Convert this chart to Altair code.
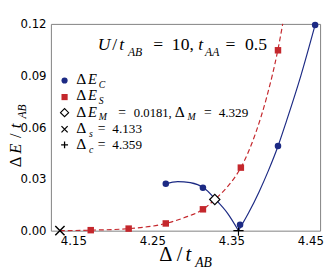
import altair as alt
import pandas as pd

# ---------------- data ----------------
c_x = [4.267, 4.314, 4.361, 4.409, 4.456]          # Delta E_C points
c_y = [0.0272, 0.0249, 0.0034, 0.0492, 0.1194]
s_x = [4.172, 4.220, 4.267, 4.314, 4.362, 4.409]   # Delta E_S points
s_y = [0.0003, 0.0012, 0.0042, 0.0124, 0.0366, 0.1047]
m_x = [4.329]                                      # crossing point
m_y = [0.0181]
ds_x = [4.133]                                     # Delta_s
dc_x = [4.359]                                     # Delta_c

# fitted curves (traced)
cl_x = [4.267, 4.282, 4.298, 4.315, 4.330, 4.345, 4.359]
cl_y = [0.0272, 0.0285, 0.0279, 0.0249, 0.0181, 0.0102, 0.0]
cr_x = [4.359, 4.372, 4.385, 4.397, 4.409, 4.420, 4.438, 4.456]
cr_y = [0.0, 0.0105, 0.0225, 0.035, 0.049, 0.064, 0.090, 0.1194]
rs_x = [4.133, 4.172, 4.220, 4.267, 4.290, 4.314, 4.329, 4.345, 4.362,
        4.381, 4.395, 4.408, 4.415]
rs_y = [0.0, 0.0003, 0.0012, 0.0042, 0.0075, 0.0124, 0.0181, 0.0255, 0.0366,
        0.057, 0.078, 0.103, 0.12]

x_ticks = [4.15, 4.25, 4.35, 4.45]
y_ticks = [0.0, 0.03, 0.06, 0.09, 0.12]

# ---------------- style ----------------
BLUE = "#1c2a84"
RED = "#c4272c"
SERIF = "Liberation Serif"
SANS = "DejaVu Sans"
OX, OY = 52, 21          # page position of the plot origin
W, H = 276, 212
XD = [4.1216, 4.4623]
YD = [0.0, 0.12]

xs = alt.Scale(domain=XD, nice=False, zero=False)
ys = alt.Scale(domain=YD, nice=False, zero=False)
xax = alt.Axis(values=x_ticks, format=".2f", title=None, domain=False, ticks=False,
               grid=False, labelFont=SANS, labelFontSize=12, labelColor="black",
               labelPadding=5)
yax = alt.Axis(values=y_ticks, format=".2f", title=None, domain=False, ticks=False,
               grid=False, labelFont=SANS, labelFontSize=12, labelColor="black",
               labelPadding=5)

curve_c = pd.DataFrame({"x": cl_x + cr_x, "y": cl_y + cr_y,
                        "b": ["l"] * len(cl_x) + ["r"] * len(cr_x)})
curve_s = pd.DataFrame({"x": rs_x, "y": rs_y})
pts_c = pd.DataFrame({"x": c_x, "y": c_y})
pts_s = pd.DataFrame({"x": s_x, "y": s_y})
pts_m = pd.DataFrame({"x": m_x, "y": m_y})
pts_ds = pd.DataFrame({"x": ds_x, "y": [0.0]})
pts_dc = pd.DataFrame({"x": dc_x, "y": [0.0]})

X = alt.X("x:Q", scale=xs, axis=xax)
Y = alt.Y("y:Q", scale=ys, axis=yax)

CROSS = "M-1,-1L1,1M-1,1L1,-1"
PLUS = "M-1,0L1,0M0,-1L0,1"

line_s = alt.Chart(curve_s).mark_line(color=RED, strokeWidth=1.2, strokeDash=[5, 3],
                                      interpolate="monotone").encode(x=X, y=Y)
line_c = alt.Chart(curve_c).mark_line(color=BLUE, strokeWidth=1.2,
                                      interpolate="monotone").encode(x=X, y=Y, detail="b:N")
sq = alt.Chart(pts_s).mark_point(shape="square", filled=True, color=RED, size=44,
                                 opacity=1).encode(x=X, y=Y)
ci = alt.Chart(pts_c).mark_point(shape="circle", filled=True, color=BLUE, size=45,
                                 opacity=1).encode(x=X, y=Y)
pl = alt.Chart(pts_dc).mark_point(shape=PLUS, filled=False, color="black", size=110,
                                  strokeWidth=1.2, opacity=1).encode(x=X, y=Y)
cr = alt.Chart(pts_ds).mark_point(shape=CROSS, filled=False, color="black", size=90,
                                  strokeWidth=1.5, opacity=1).encode(x=X, y=Y)
dm = alt.Chart(pts_m).mark_point(shape="diamond", filled=True, fill="white",
                                 stroke="black", strokeWidth=1.2, size=110,
                                 opacity=1).encode(x=X, y=Y)

one = pd.DataFrame({"k": [0]})


def seg(text, px, py, size, italic=False, angle=0):
    kw = dict(text=text, align="left", baseline="alphabetic", font=SERIF,
              fontSize=size, color="black", angle=angle)
    if italic:
        kw["fontStyle"] = "italic"
    return alt.Chart(one).mark_text(**kw).encode(x=alt.value(px - OX), y=alt.value(py - OY))


def marker(shape, px, py, size, fill=None, stroke=None, sw=1.0):
    kw = dict(shape=shape, size=size, opacity=1, strokeWidth=sw)
    if fill is not None:
        kw["filled"] = True
        kw["fill"] = fill
    else:
        kw["filled"] = False
    if stroke is not None:
        kw["stroke"] = stroke
    return alt.Chart(one).mark_point(**kw).encode(x=alt.value(px - OX), y=alt.value(py - OY))


texts = []
# title U/t_AB = 10, t_AA = 0.5
TB, TS = 48, 54
texts += [seg("U", 100, TB, 18, True), seg("/", 115, TB, 18), seg("t", 122, TB, 18, True),
          seg("AB", 131, TS, 12, True), seg("=", 157, TB, 18), seg("10,", 176, TB, 18),
          seg("t", 203, TB, 18, True), seg("AA", 210, TS, 12, True),
          seg("=", 231, TB, 18), seg("0.5", 251, TB, 18)]

# legend
LS = 10
rows = [83, 99, 116, 133, 149]


def head(row, sub, subx=101):
    return [seg("Δ", 78, row, 16), seg("E", 90, row, 15, True), seg(sub, subx, row + 4, LS, True)]


texts += head(rows[0], "C")
texts += head(rows[1], "S")
texts += head(rows[2], "M") + [
    seg("=", 121, rows[2], 14), seg("0.0181,", 137, rows[2], 13),
    seg("Δ", 179, rows[2], 16), seg("M", 192, rows[2] + 4, LS, True),
    seg("=", 209, rows[2], 14), seg("4.329", 224, rows[2], 13.5)]
texts += [seg("Δ", 78, rows[3], 16), seg("s", 91, rows[3] + 4, LS, True),
          seg("=", 100, rows[3], 14), seg("4.133", 115, rows[3], 13.5)]
texts += [seg("Δ", 78, rows[4], 16), seg("c", 91, rows[4] + 4, LS, True),
          seg("=", 100, rows[4], 14), seg("4.359", 115, rows[4], 13.5)]

marks = [marker("circle", 66, 79, 40, fill=BLUE),
         marker("square", 66, 96, 40, fill=RED),
         marker("diamond", 66, 112, 70, fill="white", stroke="black", sw=1.1),
         marker(CROSS, 66, 129, 40, stroke="black", sw=1.3),
         marker(PLUS, 66, 145, 50, stroke="black", sw=1.3)]

# axis titles
YB = 21
texts += [seg("Δ", YB, 168, 17, angle=270), seg("E", YB, 154, 17, True, angle=270),
          seg("/", YB, 138, 17, angle=270), seg("t", YB, 128, 17, True, angle=270),
          seg("AB", YB + 5, 118, 12, True, angle=270)]
texts += [seg("Δ", 163, 264, 21), seg("/", 181, 264, 21), seg("t", 190, 264, 21, True),
          seg("AB", 200, 270, 14, True)]

chart = alt.layer(line_s, line_c, pl, sq, ci, cr, dm, *marks, *texts).properties(
    width=W, height=H,
    padding={"left": 44, "top": 13, "right": 4, "bottom": 37},
    autosize=alt.AutoSizeParams(type="none"),
).configure_view(stroke="#808080", strokeWidth=1)

chart.save("out.html", embed_options={"renderer": "svg", "actions": False})
